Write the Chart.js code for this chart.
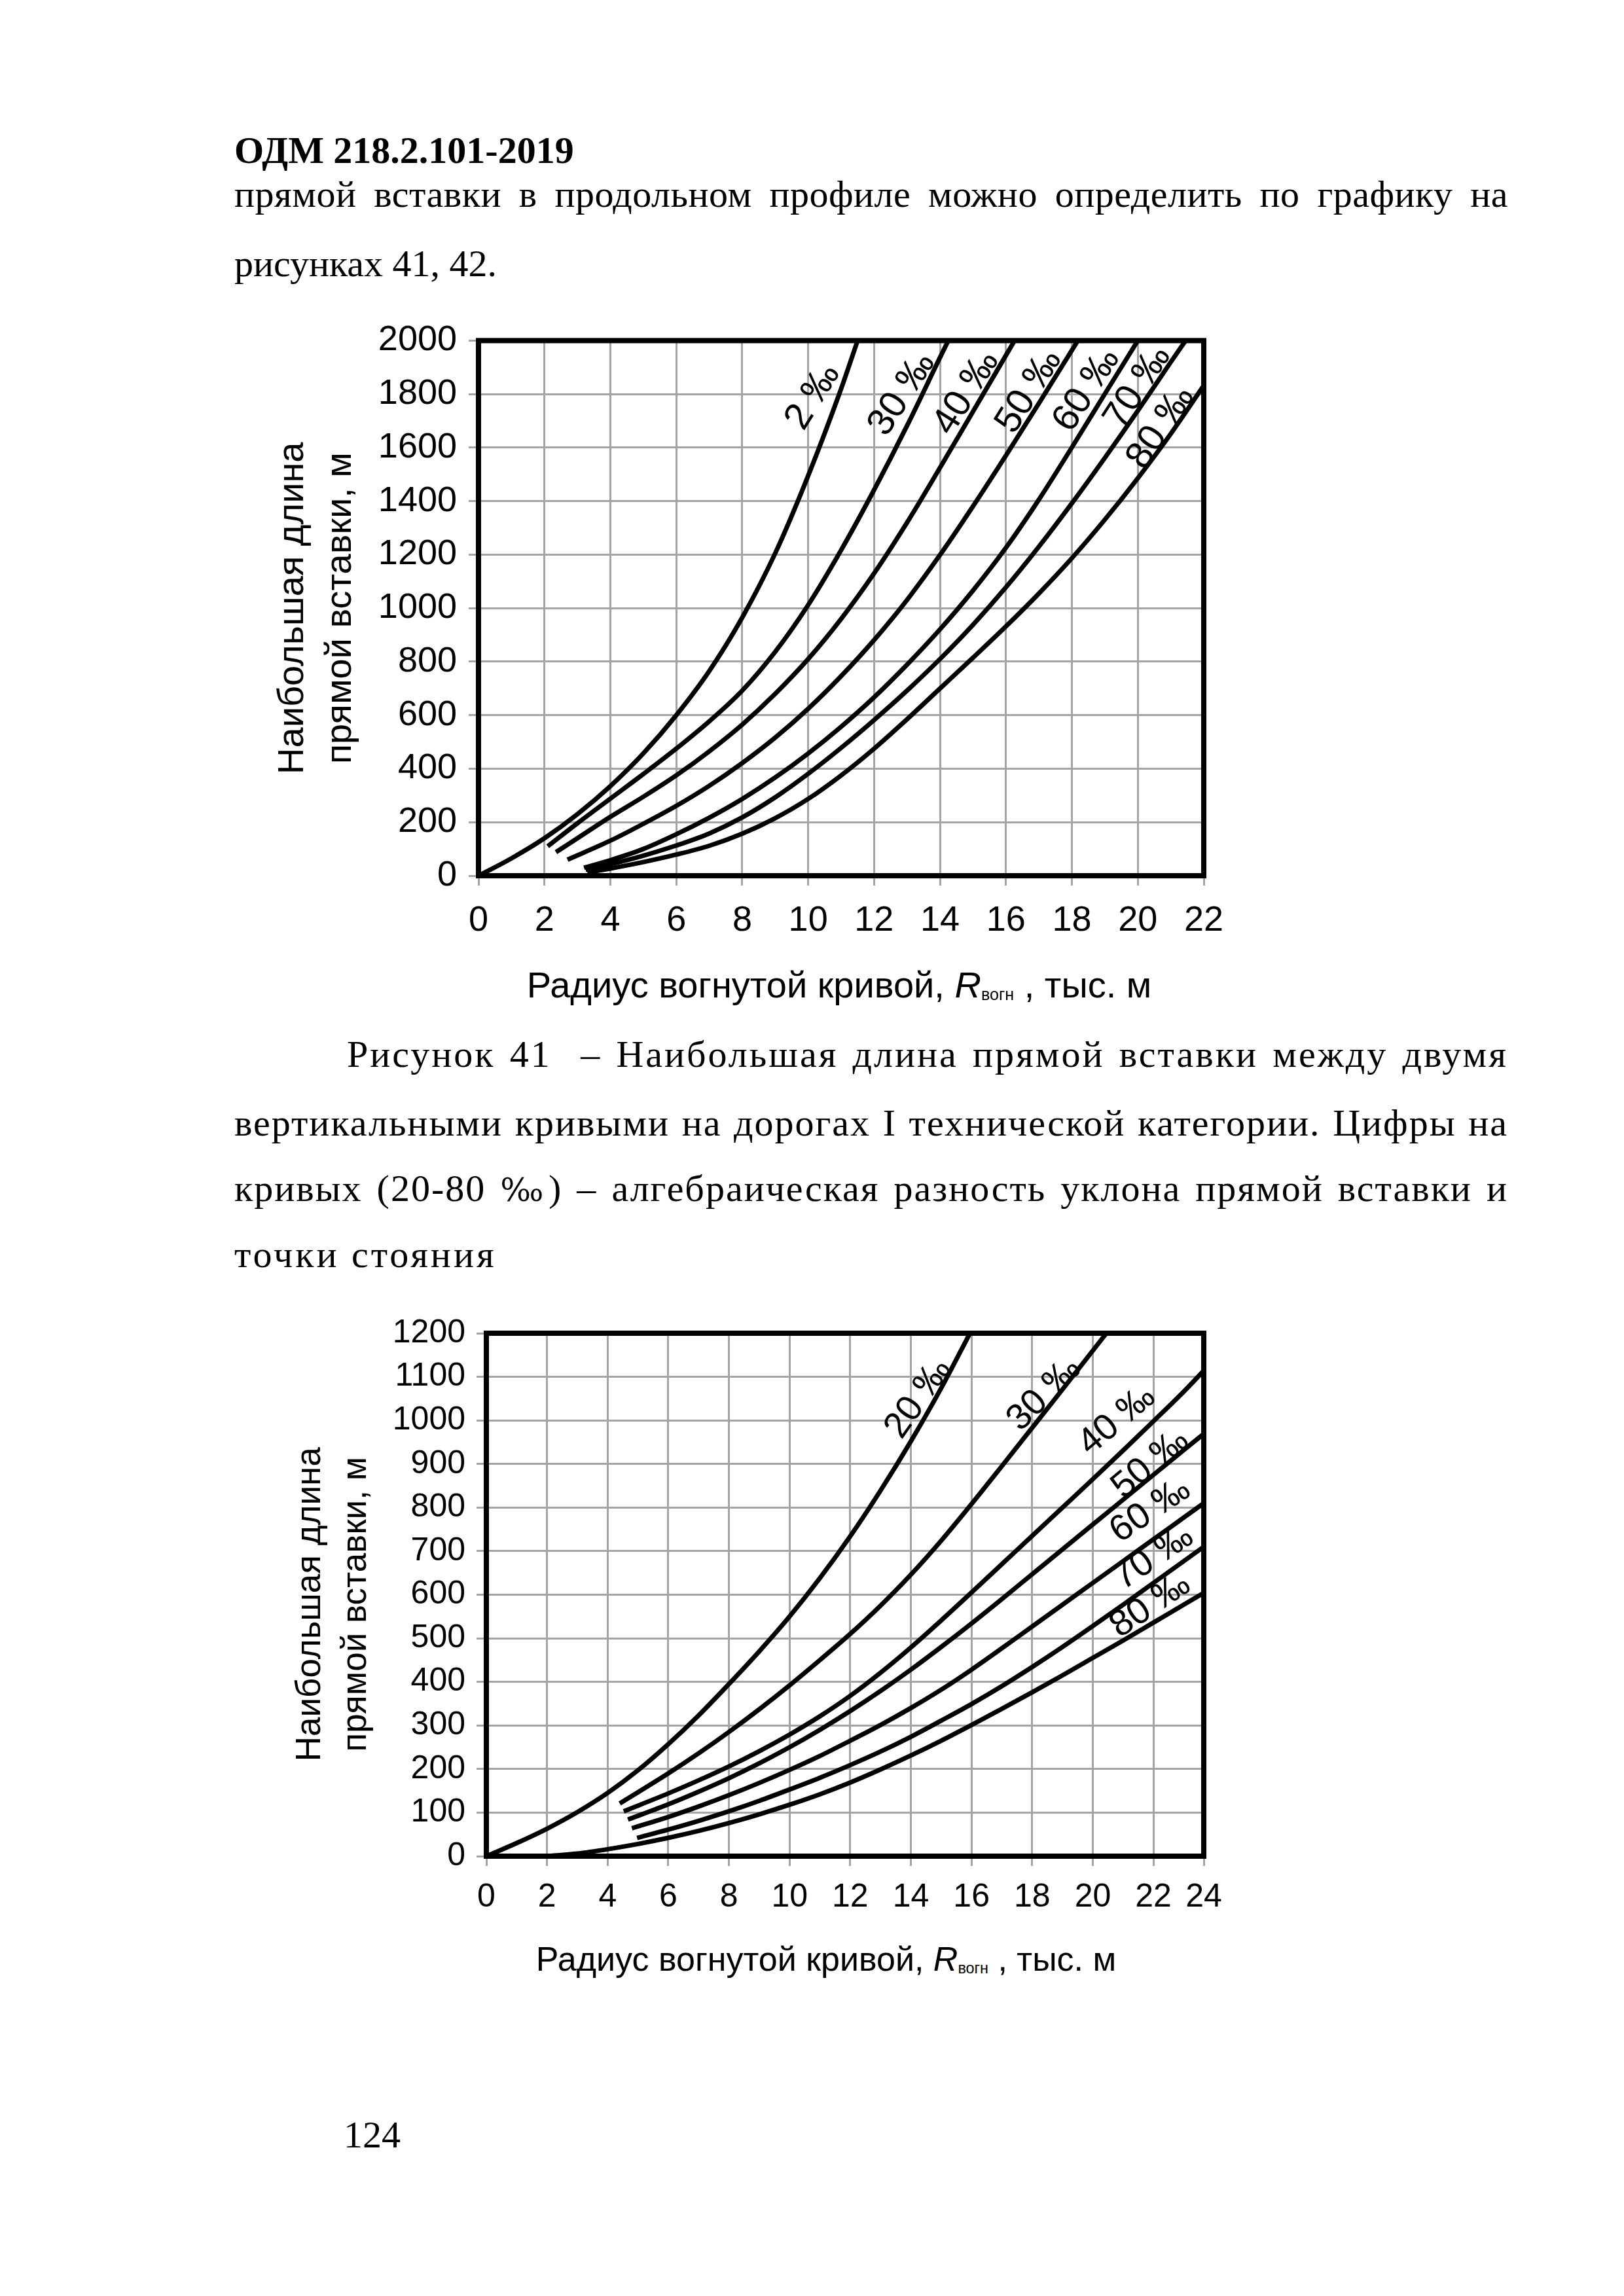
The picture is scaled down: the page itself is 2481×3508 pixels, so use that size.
<!DOCTYPE html>
<html lang="ru">
<head>
<meta charset="utf-8">
<title>ОДМ 218.2.101-2019, рисунки 41, 42</title>
<script src="https://cdn.jsdelivr.net/npm/chart.js@4.4.1/dist/chart.umd.min.js"></script>
<style>
  html, body { margin: 0; padding: 0; background: #fff; }
  body { width: 2481px; height: 3508px; position: relative; overflow: hidden;
         font-family: "Liberation Serif", "Times New Roman", serif; color: #000; }
  .line { position: absolute; font-size: 58px; line-height: 70px; white-space: nowrap; }
  .just { text-align: justify; text-align-last: justify; white-space: normal; }
  .permille { font-family: "DejaVu Serif", serif; font-size: 0.85em; }
  canvas { position: absolute; }
  .xtitle { position: absolute; font-family: "Liberation Sans", Arial, sans-serif;
            line-height: 60px; white-space: nowrap; transform: translateX(-50%); }
  .xtitle sub { font-size: 0.45em; vertical-align: -0.15em; }
</style>
</head>
<body>

<div class="line" style="left:358px;top:195px;font-weight:bold;">ОДМ 218.2.101-2019</div>
<div class="line just" style="left:358px;top:262px;width:1946px;letter-spacing:0.5px;">прямой вставки в продольном профиле можно определить по графику на</div>
<div class="line" style="left:358px;top:368px;">рисунках 41, 42.</div>

<canvas id="fig41" width="1520" height="1100" style="left:380px;top:470px;width:1520px;height:1100px;"></canvas>
<div class="xtitle" style="left:1282px;top:1475px;font-size:56px;">Радиус вогнутой кривой, <i>R</i><sub>вогн</sub> , тыс. м</div>

<div class="line just" style="left:530px;top:1576px;width:1774px;letter-spacing:3px;">Рисунок 41&nbsp; – Наибольшая длина прямой вставки между двумя</div>
<div class="line just" style="left:358px;top:1681px;width:1946px;letter-spacing:2px;">вертикальными кривыми на дорогах I технической категории. Цифры на</div>
<div class="line just" style="left:358px;top:1781px;width:1946px;letter-spacing:2px;">кривых (20-80&nbsp;<span class="permille">‰</span>) – алгебраическая разность уклона прямой вставки и</div>
<div class="line" style="left:358px;top:1882px;letter-spacing:4px;">точки стояния</div>

<canvas id="fig42" width="1520" height="960" style="left:380px;top:1990px;width:1520px;height:960px;"></canvas>
<div class="xtitle" style="left:1262px;top:2963px;font-size:52px;">Радиус вогнутой кривой, <i>R</i><sub>вогн</sub> , тыс. м</div>

<div class="line" style="left:525px;top:3227px;">124</div>

<script>
// ---- Рисунок 41: радиус R (тыс. м) -> длина L (м), по кривым ----
const fig41Names = ['2 ‰', '30 ‰', '40 ‰', '50 ‰', '60 ‰', '70 ‰', '80 ‰'];
const fig41R2  = [0, 1, 2, 3, 4, 5, 6, 7, 8, 9, 10, 11, 11.5];
const fig41L2  = [0, 65, 140, 230, 335, 457, 600, 765, 965, 1205, 1495, 1820, 2000];
const fig41R30 = [2.1, 3, 4, 5, 6, 7, 8, 9, 10, 11, 12, 13, 14, 14.25];
const fig41L30 = [110, 196, 288, 380, 475, 577, 692, 837, 1012, 1217, 1442, 1682, 1937, 2000];
const fig41R40 = [2.35, 3, 4, 5, 6, 7, 8, 9, 10, 11, 12, 13, 14, 15, 16, 16.26];
const fig41L40 = [88, 140, 220, 295, 375, 465, 565, 680, 810, 960, 1130, 1320, 1525, 1735, 1945, 2000];
const fig41R50 = [2.7, 4, 5, 6, 7, 8, 9, 10, 11, 12, 13, 14, 15, 16, 17, 18, 18.18];
const fig41L50 = [60, 131, 194, 261, 336, 421, 516, 624, 746, 881, 1031, 1199, 1381, 1571, 1766, 1964, 2000];
const fig41R60 = [3.2, 4, 5, 6, 7, 8, 9, 10, 11, 12, 13, 14, 15, 16, 17, 18, 19, 20];
const fig41L60 = [30, 58, 100, 155, 217, 287, 367, 457, 557, 667, 789, 921, 1066, 1226, 1406, 1601, 1801, 2000];
const fig41R70 = [3.25, 4, 5, 6, 7, 8, 9, 10, 11, 12, 13, 14, 15, 16, 17, 18, 19, 20, 21, 21.45];
const fig41L70 = [22, 43, 75, 113, 158, 218, 293, 381, 478, 582, 692, 810, 938, 1078, 1230, 1392, 1562, 1738, 1920, 2000];
const fig41R80 = [3.3, 4, 5, 6, 7, 8, 9, 10, 11, 12, 13, 14, 15, 16, 17, 18, 19, 20, 21, 22];
const fig41L80 = [12, 27, 51, 79, 112, 157, 215, 287, 375, 475, 585, 700, 815, 932, 1055, 1187, 1331, 1486, 1652, 1832];
// где стоят подписи кривых (в единицах осей)
const fig41LabelR = [10.15, 12.85, 14.8, 16.7, 18.45, 20.0, 20.7];
const fig41LabelL = [1790, 1800, 1805, 1810, 1815, 1825, 1675];

const fig41TicksX = [0, 2, 4, 6, 8, 10, 12, 14, 16, 18, 20, 22];
const fig41TicksY = [0, 200, 400, 600, 800, 1000, 1200, 1400, 1600, 1800, 2000];

// ---- Рисунок 42 ----
const fig42Names = ['20 ‰', '30 ‰', '40 ‰', '50 ‰', '60 ‰', '70 ‰', '80 ‰'];
const fig42R20 = [0, 1, 2, 3, 4, 5, 6, 7, 8, 9, 10, 11, 12, 13, 14, 15, 15.95];
const fig42L20 = [0, 30, 63, 101, 145, 197, 257, 323, 395, 470, 550, 638, 734, 839, 952, 1074, 1200];
const fig42R30 = [4.4, 6, 7, 8, 9, 10, 11, 12, 13, 14, 15, 16, 17, 18, 19, 20, 20.45];
const fig42L30 = [121, 190, 236, 285, 337, 392, 450, 510, 575, 646, 724, 808, 895, 983, 1071, 1160, 1200];
const fig42R40 = [4.53, 6, 7, 8, 9, 10, 11, 12, 13, 14, 15, 16, 17, 18, 19, 20, 21, 22, 23, 23.66];
const fig42L40 = [103, 144, 174, 206, 241, 279, 321, 368, 421, 479, 541, 605, 670, 735, 800, 865, 931, 998, 1066, 1114];
const fig42R50 = [4.67, 6, 7, 8, 9, 10, 11, 12, 13, 14, 15, 16, 17, 18, 19, 20, 21, 22, 23, 23.66];
const fig42L50 = [84, 119, 148, 179, 213, 250, 290, 333, 379, 428, 480, 534, 590, 647, 704, 761, 818, 875, 932, 969];
const fig42R60 = [4.8, 6, 7, 8, 9, 10, 11, 12, 13, 14, 15, 16, 17, 18, 19, 20, 21, 22, 23, 23.66];
const fig42L60 = [64, 90, 114, 140, 168, 198, 230, 265, 301, 340, 382, 428, 477, 527, 577, 627, 677, 727, 777, 810];
const fig42R70 = [4.97, 6, 7, 8, 9, 10, 11, 12, 13, 14, 15, 16, 17, 18, 19, 20, 21, 22, 23, 23.66];
const fig42L70 = [42, 61, 81, 103, 127, 153, 180, 209, 240, 274, 311, 349, 390, 434, 480, 528, 577, 627, 677, 710];
const fig42R80 = [2, 3, 4, 5, 6, 7, 8, 9, 10, 11, 12, 13, 14, 15, 16, 17, 18, 19, 20, 21, 22, 23, 23.66];
const fig42L80 = [0, 6, 16, 28, 42, 58, 76, 96, 118, 142, 169, 199, 231, 265, 301, 338, 376, 415, 455, 495, 536, 577, 604];
const fig42LabelR = [14.25, 18.4, 20.8, 21.9, 21.9, 22.0, 21.9];
const fig42LabelL = [1050, 1060, 1000, 900, 793, 685, 575];

// на оригинале последнее деление короче: рамка стоит на ~23,66, подписана «24»
const fig42TicksX = [0, 2, 4, 6, 8, 10, 12, 14, 16, 18, 20, 22, 23.66];
const fig42TickLabelsX = ['0', '2', '4', '6', '8', '10', '12', '14', '16', '18', '20', '22', '24'];
const fig42TicksY = [0, 100, 200, 300, 400, 500, 600, 700, 800, 900, 1000, 1100, 1200];

Chart.defaults.font.family = '"Liberation Sans", Arial, sans-serif';
Chart.defaults.color = '#000';

function toPoints(xs, ys) {
  return xs.map((x, i) => ({ x: x, y: ys[i] }));
}

function curve(xs, ys) {
  return {
    data: toPoints(xs, ys),
    showLine: true,
    borderColor: '#000',
    borderWidth: 7,
    pointRadius: 0,
    cubicInterpolationMode: 'monotone',
    fill: false
  };
}

// толстая рамка вокруг поля графика
const framePlugin = {
  id: 'frame',
  afterDatasetsDraw(chart) {
    const { ctx, chartArea: a } = chart;
    ctx.save();
    ctx.lineWidth = 8;
    ctx.strokeStyle = '#000';
    ctx.strokeRect(a.left, a.top, a.right - a.left, a.bottom - a.top);
    ctx.restore();
  }
};

// наклонные подписи «NN ‰» у кривых
const curveLabelPlugin = {
  id: 'curveLabels',
  afterDatasetsDraw(chart, args, opts) {
    const { ctx, scales } = chart;
    ctx.save();
    ctx.fillStyle = '#000';
    ctx.font = opts.size + 'px "Liberation Sans", Arial, sans-serif';
    ctx.textAlign = 'center';
    ctx.textBaseline = 'middle';
    opts.names.forEach((name, i) => {
      const px = scales.x.getPixelForValue(opts.xs[i]);
      const py = scales.y.getPixelForValue(opts.ys[i]);
      ctx.save();
      ctx.translate(px, py);
      ctx.rotate(opts.angles[i] * Math.PI / 180);
      ctx.fillText(name, 0, 0);
      ctx.restore();
    });
    ctx.restore();
  }
};

function makeChart(id, cfg) {
  const gridStyle = { color: '#a4a4a4', lineWidth: 3, tickLength: 15, tickColor: '#a4a4a4' };
  return new Chart(document.getElementById(id), {
    type: 'scatter',
    data: { datasets: cfg.datasets },
    options: {
      responsive: false,
      animation: false,
      devicePixelRatio: 1,
      layout: { padding: { left: 0, top: cfg.padTop, right: cfg.padRight, bottom: 0 } },
      plugins: {
        legend: { display: false },
        tooltip: { enabled: false },
        curveLabels: cfg.labels
      },
      scales: {
        x: {
          type: 'linear',
          min: 0,
          max: cfg.xMax,
          grid: gridStyle,
          border: { display: false },
          afterBuildTicks: (s) => { s.ticks = cfg.ticksX.map(v => ({ value: v })); },
          afterFit: (s) => { s.height = cfg.xAxisHeight; },
          ticks: {
            autoSkip: false,
            maxRotation: 0,
            padding: cfg.xTickPad,
            font: { size: cfg.tickSize },
            callback: cfg.xLabel
          }
        },
        y: {
          type: 'linear',
          min: 0,
          max: cfg.yMax,
          grid: gridStyle,
          border: { display: false },
          afterBuildTicks: (s) => { s.ticks = cfg.ticksY.map(v => ({ value: v })); },
          afterFit: (s) => { s.width = cfg.yAxisWidth; },
          ticks: {
            autoSkip: false,
            padding: cfg.yTickPad,
            font: { size: cfg.tickSize },
            callback: (v) => String(v)
          },
          title: {
            display: true,
            text: cfg.yTitle,
            font: { size: cfg.titleSize, lineHeight: cfg.titleLine },
            padding: { top: cfg.titlePad, bottom: 0 }
          }
        }
      }
    },
    plugins: [framePlugin, curveLabelPlugin]
  });
}

makeChart('fig41', {
  datasets: [
    curve(fig41R2, fig41L2), curve(fig41R30, fig41L30), curve(fig41R40, fig41L40),
    curve(fig41R50, fig41L50), curve(fig41R60, fig41L60), curve(fig41R70, fig41L70),
    curve(fig41R80, fig41L80)
  ],
  labels: { names: fig41Names, xs: fig41LabelR, ys: fig41LabelL, size: 58,
            angles: [-58, -57, -58, -58, -57, -57, -56] },
  xMax: 22, yMax: 2000,
  ticksX: fig41TicksX, ticksY: fig41TicksY,
  xLabel: (v) => String(v),
  yTitle: ['Наибольшая длина', 'прямой вставки, м'],
  padTop: 33, padRight: 61,
  xAxisHeight: 232, yAxisWidth: 351,
  xTickPad: 22, yTickPad: 18, tickSize: 54,
  titleSize: 56, titleLine: 1.3, titlePad: 31
});

makeChart('fig42', {
  datasets: [
    curve(fig42R20, fig42L20), curve(fig42R30, fig42L30), curve(fig42R40, fig42L40),
    curve(fig42R50, fig42L50), curve(fig42R60, fig42L60), curve(fig42R70, fig42L70),
    curve(fig42R80, fig42L80)
  ],
  labels: { names: fig42Names, xs: fig42LabelR, ys: fig42LabelL, size: 56,
            angles: [-55, -45, -40, -40, -34, -34, -34] },
  xMax: 23.66, yMax: 1200,
  ticksX: fig42TicksX, ticksY: fig42TicksY,
  xLabel: (v) => fig42TickLabelsX[fig42TicksX.indexOf(v)],
  // пробелы в конце строк сдвигают повёрнутую подпись чуть ниже, как на оригинале
  yTitle: ['Наибольшая длина\u00a0\u00a0', 'прямой вставки, м\u00a0\u00a0'],
  padTop: 34, padRight: 61,
  xAxisHeight: 114, yAxisWidth: 363,
  xTickPad: 18, yTickPad: 17, tickSize: 50,
  titleSize: 53, titleLine: 1.32, titlePad: 59
});
</script>
</body>
</html>
